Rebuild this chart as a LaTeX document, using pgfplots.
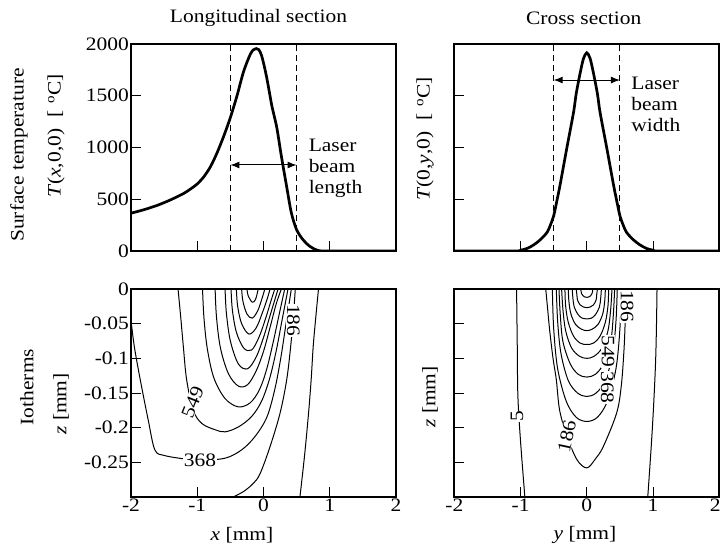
\documentclass[border=0pt]{standalone}
\usepackage{fontspec}
\setmainfont{Liberation Serif}[FakeStretch=1.13]
\usepackage{pgfplots}
\pgfplotsset{compat=1.18}
\usetikzlibrary{arrows.meta}
\newcommand{\fs}{\fontsize{19pt}{21pt}\selectfont}
\tikzset{
  tcurve/.style={line width=2.7pt, black, smooth, tension=0.5},
  cont/.style={line width=1pt, black, smooth, tension=0.55},
  dsh/.style={line width=1pt, black, dash pattern=on 6pt off 4pt},
  clab/.style={fill=white, inner sep=0.5pt, font=\fs},
}
\pgfplotsset{
  myax/.style={
    scale only axis, width=265pt, anchor=north west,
    xmin=-2, xmax=2,
    axis line style={line width=1.7pt},
    tick align=inside, xtick pos=bottom, ytick pos=left,
    major tick length=10pt,
    every tick/.style={line width=1pt, black},
    xtick={-2,-1,0,1,2},
    ticklabel style={font=\fs, inner sep=2pt},
  },
  toprow/.style={height=207pt, ymin=0, ymax=2000, ytick={0,500,1000,1500,2000}, xticklabels={}},
  botrow/.style={height=208pt, ymin=-0.3, ymax=0, ytick={-0.25,-0.2,-0.15,-0.1,-0.05,0}},
}
\begin{document}
\fs
\begin{tikzpicture}
\useasboundingbox (0,0) rectangle (722pt,-552pt);

% ---------------- top left ----------------
\begin{axis}[myax, toprow, at={(131pt,-44pt)}, yticklabels={0,500,1000,1500,2000}]
\addplot[tcurve] coordinates {
(-2.0,365) (-1.8,400) (-1.6,442) (-1.4,495) (-1.2,558) (-1.1,600) (-1.0,648) (-0.9,718)
(-0.8,815) (-0.7,950) (-0.6,1110) (-0.5,1290) (-0.4,1500) (-0.3,1735) (-0.2,1900)
(-0.15,1945) (-0.11,1956) (-0.07,1945) (-0.03,1890) (0.01,1790) (0.05,1670)
(0.09,1530) (0.13,1390) (0.2,1195) (0.27,915) (0.35,620) (0.42,370) (0.5,205) (0.6,106)
(0.7,45) (0.8,10) (0.9,0) (1.2,0) (2.0,0)};
\addplot[dsh] coordinates {(-0.5,0) (-0.5,2000)};
\addplot[dsh] coordinates {(0.5,0) (0.5,2000)};
\draw[{Latex[length=9pt,width=7pt]}-{Latex[length=9pt,width=7pt]}, line width=1pt]
  (axis cs:-0.5,831) -- (axis cs:0.5,831);
\node[anchor=west, align=left, font=\fs, inner sep=0pt] at (axis cs:0.68,800) {Laser\\beam\\length};
\end{axis}

% ---------------- top right ----------------
\begin{axis}[myax, toprow, at={(454.3pt,-44pt)}, yticklabels={}]
\addplot[tcurve] coordinates {
(-2,0) (-1.1,0) (-1.0,8) (-0.9,25) (-0.8,60) (-0.7,110) (-0.6,180) (-0.55,250)
(-0.5,340) (-0.45,490) (-0.4,650) (-0.3,1000) (-0.2,1340) (-0.16,1520) (-0.1,1720)
(-0.05,1860) (0,1915) (0.05,1860) (0.1,1720) (0.16,1520) (0.2,1340) (0.3,1000)
(0.4,650) (0.45,490) (0.5,340) (0.55,250) (0.6,180) (0.7,110) (0.8,60) (0.9,25)
(1.0,8) (1.1,0) (2,0)};
\addplot[dsh] coordinates {(-0.5,0) (-0.5,2000)};
\addplot[dsh] coordinates {(0.5,0) (0.5,2000)};
\draw[{Latex[length=9pt,width=7pt]}-{Latex[length=9pt,width=7pt]}, line width=1pt]
  (axis cs:-0.5,1652) -- (axis cs:0.5,1652);
\node[anchor=west, align=left, font=\fs, inner sep=0pt] at (axis cs:0.67,1420) {Laser\\beam\\width};
\end{axis}

% ---------------- bottom left ----------------
\begin{axis}[myax, botrow, at={(131pt,-289pt)},
   xticklabels={-2,-1,0,1,2},
   yticklabels={-0.25,-0.2,-0.15,-0.1,-0.05,0}]
\addplot[cont] coordinates {(0.55,-0.3) (0.62,-0.24) (0.68,-0.179) (0.72,-0.13) (0.75,-0.083) (0.79,-0.04) (0.83,0)};
\addplot[cont] coordinates {(-0.46,-0.3) (-0.3,-0.292) (-0.15,-0.28) (-0.05,-0.266) (0.10,-0.227) (0.25,-0.179) (0.35,-0.131) (0.41,-0.083) (0.45,-0.04) (0.48,0)};
\addplot[cont] coordinates {(-2,-0.045) (-1.95,-0.083) (-1.86,-0.131) (-1.74,-0.189) (-1.64,-0.232) (-1.50,-0.240) (-1.2,-0.245) (-0.96,-0.247) (-0.58,-0.244) (-0.33,-0.232) (-0.13,-0.213) (0.05,-0.185) (0.17,-0.145) (0.26,-0.10) (0.34,-0.05) (0.42,0)};
\addplot[cont] coordinates {(-1.29,0) (-1.25,-0.04) (-1.21,-0.083) (-1.16,-0.131) (-1.06,-0.175) (-0.93,-0.194) (-0.73,-0.203) (-0.58,-0.206) (-0.38,-0.199) (-0.18,-0.184) (-0.03,-0.162) (0.09,-0.13) (0.19,-0.09) (0.28,-0.045) (0.37,0)};
\addplot[cont] coordinates {(-0.92,0) (-0.90,-0.04) (-0.85,-0.085) (-0.75,-0.128) (-0.58,-0.158) (-0.38,-0.170) (-0.2,-0.164) (-0.06,-0.145) (0.05,-0.115) (0.15,-0.075) (0.24,-0.035) (0.32,0)};
\addplot[cont] coordinates {(-0.73,0) (-0.71,-0.04) (-0.65,-0.085) (-0.53,-0.122) (-0.38,-0.140) (-0.24,-0.138) (-0.11,-0.118) (0.0,-0.09) (0.10,-0.055) (0.19,-0.022) (0.27,0)};
\addplot[cont] coordinates {(-0.58,0) (-0.56,-0.035) (-0.50,-0.075) (-0.38,-0.108) (-0.24,-0.115) (-0.11,-0.098) (0.0,-0.07) (0.10,-0.038) (0.22,0)};
\addplot[cont] coordinates {(-0.49,0) (-0.47,-0.03) (-0.41,-0.062) (-0.30,-0.085) (-0.18,-0.088) (-0.07,-0.07) (0.03,-0.043) (0.11,-0.018) (0.17,0)};
\addplot[cont] coordinates {(-0.41,0) (-0.39,-0.025) (-0.33,-0.05) (-0.22,-0.065) (-0.11,-0.056) (-0.02,-0.035) (0.05,-0.016) (0.10,0)};
\addplot[cont] coordinates {(-0.33,0) (-0.31,-0.018) (-0.25,-0.036) (-0.17,-0.042) (-0.09,-0.032) (-0.03,-0.016) (0.02,0)};
\addplot[cont] coordinates {(-0.25,0) (-0.23,-0.01) (-0.17,-0.019) (-0.12,-0.015) (-0.08,0)};
\node[clab, rotate=68] at (axis cs:-1.07,-0.163) {549};
\node[clab] at (axis cs:-0.96,-0.247) {368};
\node[clab, rotate=-90] at (axis cs:0.45,-0.045) {186};
\end{axis}

% ---------------- bottom right ----------------
\begin{axis}[myax, botrow, at={(454.3pt,-289pt)}, yticklabels={},
   xticklabels={-2,-1,0,1,\kern-8pt 2}]
\addplot[cont] coordinates {(-1.06,0) (-1.05,-0.08) (-1.04,-0.155) (-1.0,-0.22) (-0.935,-0.3)};
\addplot[cont] coordinates {(1.06,0) (1.04,-0.1) (0.99,-0.2) (0.92,-0.3)};
\addplot[cont] coordinates {(-0.62,0) (-0.59,-0.03) (-0.56,-0.06) (-0.51,-0.10) (-0.46,-0.131) (-0.41,-0.175) (-0.30,-0.212) (-0.15,-0.246) (0,-0.258) (0.13,-0.245) (0.25,-0.227) (0.45,-0.179) (0.52,-0.14) (0.56,-0.09) (0.58,-0.045) (0.59,0)};
\addplot[cont] coordinates {(-0.52,0) (-0.50,-0.057) (-0.44,-0.115) (-0.31,-0.162) (-0.16,-0.185) (0,-0.191) (0.16,-0.185) (0.31,-0.162) (0.44,-0.115) (0.50,-0.057) (0.52,0)};
\addplot[cont] coordinates {(-0.46,0) (-0.44,-0.047) (-0.39,-0.093) (-0.28,-0.132) (-0.14,-0.150) (0,-0.155) (0.14,-0.150) (0.28,-0.132) (0.39,-0.093) (0.44,-0.047) (0.46,0)};
\addplot[cont] coordinates {(-0.42,0) (-0.40,-0.038) (-0.36,-0.076) (-0.25,-0.108) (-0.13,-0.123) (0,-0.127) (0.13,-0.123) (0.25,-0.108) (0.36,-0.076) (0.40,-0.038) (0.42,0)};
\addplot[cont] coordinates {(-0.38,0) (-0.36,-0.03) (-0.32,-0.06) (-0.23,-0.085) (-0.11,-0.097) (0,-0.10) (0.11,-0.097) (0.23,-0.085) (0.32,-0.06) (0.36,-0.03) (0.38,0)};
\addplot[cont] coordinates {(-0.33,0) (-0.32,-0.024) (-0.28,-0.048) (-0.20,-0.068) (-0.10,-0.078) (0,-0.08) (0.10,-0.078) (0.20,-0.068) (0.28,-0.048) (0.32,-0.024) (0.33,0)};
\addplot[cont] coordinates {(-0.28,0) (-0.27,-0.018) (-0.24,-0.036) (-0.17,-0.051) (-0.08,-0.058) (0,-0.06) (0.08,-0.058) (0.17,-0.051) (0.24,-0.036) (0.27,-0.018) (0.28,0)};
\addplot[cont] coordinates {(-0.22,0) (-0.21,-0.013) (-0.19,-0.026) (-0.13,-0.037) (-0.07,-0.042) (0,-0.043) (0.07,-0.042) (0.13,-0.037) (0.19,-0.026) (0.21,-0.013) (0.22,0)};
\addplot[cont] coordinates {(-0.16,0) (-0.15,-0.008) (-0.14,-0.016) (-0.10,-0.023) (-0.05,-0.026) (0,-0.027) (0.05,-0.026) (0.10,-0.023) (0.14,-0.016) (0.15,-0.008) (0.16,0)};
\addplot[cont] coordinates {(-0.09,0) (-0.086,-0.004) (-0.077,-0.007) (-0.054,-0.010) (-0.027,-0.0116) (0,-0.012) (0.027,-0.0116) (0.054,-0.010) (0.077,-0.007) (0.086,-0.004) (0.09,0)};
\node[clab, rotate=90] at (axis cs:-1.055,-0.184) {5};
\node[clab, rotate=78] at (axis cs:-0.30,-0.212) {186};
\node[clab, rotate=-90] at (axis cs:0.61,-0.025) {186};
\node[clab, rotate=-90] at (axis cs:0.32,-0.090) {549};
\node[clab, rotate=-90] at (axis cs:0.31,-0.142) {368};
\end{axis}

% ---------------- outer labels ----------------
\node at (258.5pt,-18pt) {Longitudinal section};
\node at (583.7pt,-18pt) {Cross section};
\node[rotate=90] at (19pt,-155pt) {Surface temperature};
\node[rotate=90] at (56pt,-136pt) {\textit{T}(\textit{x},0,0)\hspace{11pt}[\hspace{7pt}\textsuperscript{o}C]};
\node[rotate=90] at (425pt,-139pt) {\textit{T}(0,\textit{y},0)\hspace{11pt}[\hspace{7pt}\textsuperscript{o}C]};
\node[rotate=90] at (27pt,-387pt) {Iotherms};
\node[rotate=90] at (61pt,-404pt) {\textit{z} [mm]};
\node[rotate=90] at (430pt,-397pt) {\textit{z} [mm]};
\node at (242pt,-535pt) {\textit{x} [mm]};
\node at (585pt,-535pt) {\textit{y} [mm]};
\end{tikzpicture}
\end{document}
